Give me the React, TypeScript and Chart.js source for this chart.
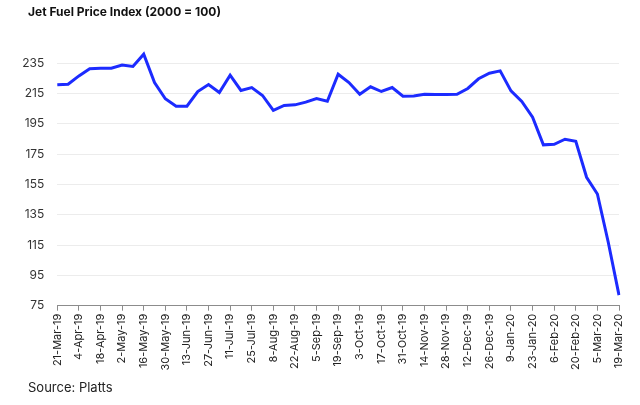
import React, { useEffect, useRef } from "react";
import { Chart, registerables } from "chart.js";

Chart.register(...registerables);

const weekLabels: string[] = [
  "21-Mar-19", "28-Mar-19", "4-Apr-19", "11-Apr-19", "18-Apr-19", "25-Apr-19",
  "2-May-19", "9-May-19", "16-May-19", "23-May-19", "30-May-19",
  "6-Jun-19", "13-Jun-19", "20-Jun-19", "27-Jun-19",
  "4-Jul-19", "11-Jul-19", "18-Jul-19", "25-Jul-19",
  "1-Aug-19", "8-Aug-19", "15-Aug-19", "22-Aug-19", "29-Aug-19",
  "5-Sep-19", "12-Sep-19", "19-Sep-19", "26-Sep-19",
  "3-Oct-19", "10-Oct-19", "17-Oct-19", "24-Oct-19", "31-Oct-19",
  "7-Nov-19", "14-Nov-19", "21-Nov-19", "28-Nov-19",
  "5-Dec-19", "12-Dec-19", "19-Dec-19", "26-Dec-19",
  "2-Jan-20", "9-Jan-20", "16-Jan-20", "23-Jan-20", "30-Jan-20",
  "6-Feb-20", "13-Feb-20", "20-Feb-20", "27-Feb-20",
  "5-Mar-20", "12-Mar-20", "19-Mar-20",
];

const jetFuelIndex: number[] = [
  220.7, 221.1, 226.6, 231.3, 231.7, 231.7, 233.7, 232.8, 240.9, 222.2,
  211.5, 206.6, 206.6, 216.3, 220.9, 215.6, 227.1, 217.0, 218.9, 213.7,
  203.8, 207.1, 207.5, 209.3, 211.7, 209.9, 227.7, 222.2, 214.5, 219.4,
  216.3, 218.9, 213.2, 213.4, 214.5, 214.3, 214.3, 214.5, 218.3, 224.7,
  228.4, 229.9, 216.7, 209.7, 199.3, 181.1, 181.5, 184.8, 183.5, 159.7,
  148.7, 117.0, 82.0,
];

const yTickValues: number[] = [75, 95, 115, 135, 155, 175, 195, 215, 235];

const titleText = "Jet Fuel Price Index (2000 = 100)";
const sourceText = "Source: Platts";

export default function App() {
  const canvasRef = useRef<HTMLCanvasElement | null>(null);

  useEffect(() => {
    if (!canvasRef.current) return;
    const chart = new Chart(canvasRef.current, {
      type: "line",
      data: {
        labels: weekLabels,
        datasets: [
          {
            data: jetFuelIndex,
            borderColor: "#1c2bff",
            borderWidth: 3,
            pointRadius: 0,
            tension: 0,
            fill: false,
          },
        ],
      },
      options: {
        responsive: false,
        animation: false,
        layout: { padding: { left: 8, top: 48, right: 21, bottom: 0 } },
        plugins: {
          legend: { display: false },
          tooltip: { enabled: false },
        },
        scales: {
          x: {
            offset: false,
            afterFit: (scale: any) => {
              scale.height = 99.3;
            },
            border: { display: true, color: "#8c8c8c", width: 1 },
            grid: {
              display: true,
              drawOnChartArea: false,
              drawTicks: true,
              tickLength: 5,
              color: "#8c8c8c",
            },
            ticks: {
              autoSkip: false,
              maxRotation: 90,
              minRotation: 90,
              padding: 3,
              color: "#222",
              font: { family: "Inter", size: 11 },
              callback: (_v: any, idx: number) =>
                idx % 2 === 0 ? weekLabels[idx] : null,
            },
          },
          y: {
            min: 75,
            max: 245,
            afterFit: (scale: any) => {
              scale.width = 49.3;
            },
            afterBuildTicks: (scale: any) => {
              scale.ticks = yTickValues.map((v) => ({ value: v }));
            },
            border: { display: false },
            grid: { color: "#ececec", drawTicks: false, lineWidth: 1 },
            ticks: {
              padding: 13,
              color: "#333",
              font: { family: "Inter", size: 12 },
            },
          },
        },
      },
    });
    return () => chart.destroy();
  }, []);

  return (
    <div
      style={{
        position: "absolute",
        left: 0,
        top: 0,
        width: 640,
        height: 405,
        background: "#fff",
        fontFamily: "Inter, sans-serif",
      }}
    >
      <canvas ref={canvasRef} width={640} height={405} />
      <div
        style={{
          position: "absolute",
          left: 28,
          top: 4,
          fontSize: 12,
          fontWeight: 700,
          color: "#111",
          whiteSpace: "nowrap",
        }}
      >
        {titleText}
      </div>
      <div
        style={{
          position: "absolute",
          left: 28,
          top: 379,
          fontSize: 13,
          color: "#222",
          whiteSpace: "nowrap",
        }}
      >
        {sourceText}
      </div>
    </div>
  );
}
